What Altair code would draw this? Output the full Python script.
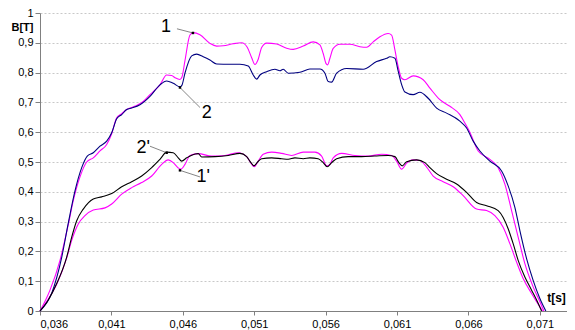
import altair as alt
import pandas as pd

# time in ms, induction in T
t_1 = [36.0, 36.70, 37.40, 37.98, 38.33, 38.80, 39.27, 39.73, 40.20, 40.67, 41.02, 41.37, 41.72, 42.07,
       42.42, 42.77, 43.23, 43.70, 44.40, 44.87, 45.22, 45.45, 45.80, 45.94, 46.15, 46.50, 46.73, 47.20,
       47.90, 48.37, 48.83, 49.53, 50.12, 50.51, 50.82, 51.05, 51.28, 51.52, 51.87, 52.57, 53.27, 53.73,
       54.43, 55.13, 55.60, 55.83, 56.02, 56.14, 56.30, 56.53, 57.00, 57.70, 58.40, 58.87, 59.33, 59.80,
       60.38, 60.62, 60.85, 61.08, 61.32, 61.55, 62.13, 62.83, 63.30, 64.00, 64.70, 65.40, 65.75, 66.10,
       66.68, 67.50, 68.08, 68.55, 69.02, 69.48, 69.95, 70.53, 71.00, 71.28]
b_1 = [0.0, 0.07, 0.17, 0.29, 0.37, 0.45, 0.50, 0.514, 0.537, 0.559, 0.595, 0.648, 0.662, 0.676,
       0.683, 0.690, 0.703, 0.726, 0.759, 0.792, 0.790, 0.783, 0.777, 0.785, 0.84, 0.926, 0.934, 0.927,
       0.898, 0.889, 0.890, 0.897, 0.900, 0.885, 0.850, 0.827, 0.845, 0.884, 0.899, 0.896, 0.882, 0.878,
       0.889, 0.903, 0.893, 0.864, 0.831, 0.826, 0.848, 0.881, 0.895, 0.895, 0.887, 0.885, 0.903, 0.920,
       0.931, 0.926, 0.876, 0.820, 0.781, 0.776, 0.789, 0.776, 0.748, 0.709, 0.687, 0.659, 0.631, 0.600,
       0.537, 0.509, 0.481, 0.426, 0.337, 0.248, 0.159, 0.081, 0.031, 0.0]

t_2 = [36.0, 36.82, 37.52, 37.98, 38.45, 38.92, 39.31, 39.73, 40.20, 40.67, 41.02, 41.37, 41.72, 42.07,
       42.42, 43.00, 43.70, 44.40, 44.87, 45.33, 45.80, 45.94, 46.15, 46.62, 46.97, 47.43, 47.90, 48.37,
       49.30, 50.00, 50.58, 50.93, 51.17, 51.40, 51.87, 52.45, 52.80, 53.03, 53.38, 54.20, 54.90, 55.60,
       55.95, 56.18, 56.42, 56.77, 57.47, 58.63, 59.57, 60.27, 60.50, 60.85, 61.08, 61.32, 61.55, 62.13,
       62.60, 63.18, 63.77, 64.47, 65.40, 65.87, 66.33, 66.80, 67.50, 68.32, 68.78, 69.25, 69.60, 70.07,
       70.53, 71.00, 71.42]
b_2 = [0.0, 0.06, 0.18, 0.295, 0.403, 0.481, 0.52, 0.531, 0.553, 0.57, 0.598, 0.645, 0.659, 0.676,
       0.681, 0.692, 0.72, 0.759, 0.772, 0.764, 0.752, 0.758, 0.798, 0.856, 0.862, 0.853, 0.842, 0.829,
       0.828, 0.828, 0.822, 0.792, 0.778, 0.792, 0.803, 0.811, 0.806, 0.811, 0.798, 0.801, 0.812, 0.812,
       0.798, 0.770, 0.768, 0.798, 0.814, 0.811, 0.837, 0.848, 0.853, 0.848, 0.805, 0.760, 0.735, 0.726,
       0.734, 0.714, 0.681, 0.664, 0.637, 0.614, 0.570, 0.537, 0.503, 0.470, 0.420, 0.348, 0.270, 0.176,
       0.103, 0.042, 0.0]

t_2p = [36.0, 36.58, 37.17, 37.87, 38.22, 38.57, 39.03, 39.73, 40.32, 41.02, 41.72, 42.42, 43.12, 43.82,
        44.40, 44.87, 45.33, 45.68, 45.92, 46.27, 46.62, 47.08, 47.32, 48.25, 49.18, 50.00, 50.47, 50.77,
        50.98, 51.24, 51.52, 52.22, 52.92, 53.38, 53.85, 54.43, 54.90, 55.48, 55.83, 56.11, 56.42, 56.77,
        57.58, 58.52, 59.45, 60.38, 60.85, 61.13, 61.36, 61.67, 62.37, 62.95, 63.30, 63.77, 64.47, 65.17,
        65.87, 66.57, 67.27, 68.08, 68.43, 68.78, 69.13, 69.48, 69.95, 70.42, 70.88, 71.12]
b_2p = [0.0, 0.037, 0.092, 0.181, 0.248, 0.303, 0.342, 0.376, 0.383, 0.394, 0.417, 0.434, 0.453, 0.481,
        0.509, 0.533, 0.531, 0.514, 0.503, 0.514, 0.523, 0.528, 0.517, 0.518, 0.522, 0.529, 0.518, 0.498,
        0.487, 0.500, 0.511, 0.514, 0.511, 0.509, 0.514, 0.511, 0.514, 0.511, 0.498, 0.484, 0.498, 0.511,
        0.518, 0.518, 0.520, 0.522, 0.518, 0.498, 0.487, 0.501, 0.507, 0.498, 0.481, 0.461, 0.442, 0.426,
        0.398, 0.364, 0.353, 0.337, 0.314, 0.276, 0.226, 0.170, 0.114, 0.070, 0.026, 0.0]

t_1p = [36.0, 36.58, 37.17, 37.87, 38.22, 38.68, 39.15, 39.73, 40.55, 41.02, 41.72, 42.42, 43.12, 43.82,
        44.52, 44.98, 45.33, 45.68, 45.85, 46.15, 46.50, 47.08, 48.02, 48.95, 49.88, 50.47, 50.77, 51.00,
        51.28, 51.63, 52.22, 52.92, 53.62, 54.43, 55.25, 55.72, 56.07, 56.30, 56.53, 57.12, 58.05, 58.98,
        59.92, 60.62, 60.97, 61.32, 61.67, 62.13, 62.60, 63.07, 63.53, 64.23, 64.93, 65.63, 66.57, 67.27,
        67.85, 68.43, 68.90, 69.37, 69.83, 70.42, 71.00, 71.19]
b_1p = [0.0, 0.04, 0.09, 0.178, 0.237, 0.292, 0.320, 0.339, 0.346, 0.359, 0.392, 0.414, 0.431, 0.453,
        0.492, 0.507, 0.498, 0.480, 0.476, 0.492, 0.522, 0.528, 0.520, 0.522, 0.531, 0.518, 0.496, 0.484,
        0.503, 0.526, 0.533, 0.529, 0.522, 0.533, 0.533, 0.520, 0.487, 0.492, 0.514, 0.529, 0.522, 0.520,
        0.526, 0.522, 0.503, 0.476, 0.496, 0.507, 0.505, 0.483, 0.453, 0.434, 0.417, 0.387, 0.342, 0.337,
        0.320, 0.281, 0.226, 0.164, 0.109, 0.059, 0.014, 0.0]

series_names = ["1", "1'", "2", "2'"]
series_colors = ["#FF00FF", "#FF00FF", "#000080", "#000000"]

x_ticks = [0.036, 0.041, 0.046, 0.051, 0.056, 0.061, 0.066, 0.071]
y_ticks = [0.0, 0.1, 0.2, 0.3, 0.4, 0.5, 0.6, 0.7, 0.8, 0.9, 1.0]

# annotation labels (t in ms, B in T)
lab_text = ["1", "2", "2'", "1'"]
lab_t = [44.82, 47.67, 43.23, 47.43]
lab_b = [0.953, 0.664, 0.548, 0.448]
# leader lines: from near label to curve point
lead_t = [45.59, 47.20, 43.70, 47.20]
lead_b = [0.947, 0.683, 0.553, 0.450]
pt_t = [46.71, 45.80, 44.87, 45.80]
pt_b = [0.933, 0.750, 0.531, 0.472]


def frame(name, t, b):
    return pd.DataFrame({"t": [v / 1000 for v in t], "B": b, "s": name, "o": list(range(len(t)))})


df = pd.concat([frame("1", t_1, b_1), frame("1'", t_1p, b_1p),
                frame("2", t_2, b_2), frame("2'", t_2p, b_2p)], ignore_index=True)

labels = pd.DataFrame({"txt": lab_text, "t": [v / 1000 for v in lab_t], "B": lab_b})
leaders = pd.DataFrame({"t": [v / 1000 for v in lead_t], "B": lead_b,
                        "t2": [v / 1000 for v in pt_t], "B2": pt_b})
points = pd.DataFrame({"t": [v / 1000 for v in pt_t], "B": pt_b})

FONT = "Liberation Sans"

xscale = alt.Scale(domain=[0.036, 0.0729], nice=False, zero=False)
yscale = alt.Scale(domain=[0, 1], nice=False, zero=True)

x_axis = alt.Axis(values=x_ticks, labelExpr="replace(format(datum.value, '.3f'), '.', ',')",
                  grid=False, title="t[s]", titleAngle=0, titleX=516, titleY=-14, titleAlign="center",
                  titleBaseline="middle", titleFontWeight="bold", titleFontSize=12, titleFont=FONT,
                  titleColor="#000000", labelFont=FONT, labelFontSize=11, labelColor="#000000",
                  labelPadding=3, tickSize=4, tickColor="#808080", domainColor="#808080",
                  labelOverlap=False)
y_axis = alt.Axis(values=y_ticks, tickCount=11,
                  labelExpr="datum.value == 0 ? '0' : (datum.value == 1 ? '1' : replace(format(datum.value, '.1f'), '.', ','))",
                  grid=True, gridColor="#c8c8c8", gridDash=[2, 2], gridWidth=1,
                  title="B[T]", titleAngle=0, titleX=-7, titleY=14, titleAlign="right",
                  titleBaseline="middle", titleFontWeight="bold", titleFontSize=11, titleFont=FONT,
                  titleColor="#000000", labelFont=FONT, labelFontSize=11, labelColor="#000000",
                  labelPadding=2, tickSize=5, tickColor="#808080", domainColor="#808080",
                  labelOverlap=False)

X = alt.X("t:Q", scale=xscale, axis=x_axis)
Y = alt.Y("B:Q", scale=yscale, axis=y_axis)

lines = alt.Chart(df).mark_line(strokeWidth=1.1, interpolate="monotone").encode(
    x=X, y=Y,
    color=alt.Color("s:N", scale=alt.Scale(domain=series_names, range=series_colors), legend=None),
    order="o:Q",
)

lead = alt.Chart(leaders).mark_rule(color="#666666", strokeWidth=0.8).encode(
    x=X, y=Y, x2="t2:Q", y2="B2:Q",
)

dots = alt.Chart(points).mark_square(color="#000000", size=6, opacity=1).encode(
    x=X, y=Y,
)

txt = alt.Chart(labels).mark_text(font=FONT, fontSize=18, color="#000000",
                                  align="center", baseline="middle").encode(
    x=X, y=Y, text="txt:N",
)

chart = alt.layer(lines, lead, dots, txt).properties(
    width=527, height=298,
    autosize=alt.AutoSizeParams(type="none"),
    padding={"left": 32, "top": 5, "right": 0, "bottom": 19},
    background="#ffffff",
).configure_view(stroke=None)

chart.save("out.html", embed_options={"renderer": "svg", "actions": False})
